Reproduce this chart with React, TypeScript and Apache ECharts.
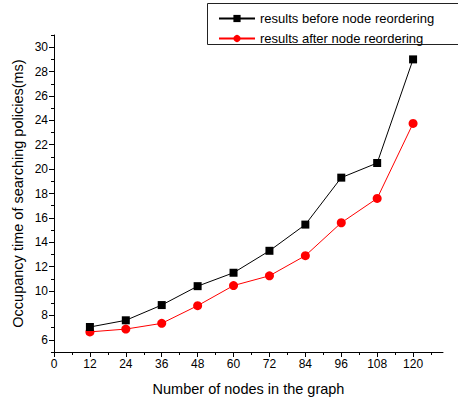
import React, { useEffect, useRef } from "react";
import * as echarts from "echarts";

const nodes = [12, 24, 36, 48, 60, 72, 84, 96, 108, 120];
const beforeReorder = [7.05, 7.6, 8.85, 10.4, 11.5, 13.3, 15.45, 19.3, 20.5, 29.0];
const afterReorder = [6.65, 6.88, 7.35, 8.8, 10.45, 11.25, 12.9, 15.6, 17.6, 23.75];
const xMajorTicks = [0, 12, 24, 36, 48, 60, 72, 84, 96, 108, 120];
const xMinorTicks = [6, 18, 30, 42, 54, 66, 78, 90, 102, 114, 126];
const yMajorTicks = [6, 8, 10, 12, 14, 16, 18, 20, 22, 24, 26, 28, 30];
const seriesNames = ["results before node reordering", "results after node reordering"];

const FONT = "Liberation Sans, Arial, sans-serif";

export default function App() {
  const ref = useRef<HTMLDivElement>(null);
  useEffect(() => {
    if (!ref.current) return;
    const chart = echarts.init(ref.current, null, { renderer: "svg" });
    const lbl = { color: "#000", fontSize: 12, fontFamily: FONT };
    chart.setOption({
      animation: false,
      textStyle: { fontFamily: FONT },
      grid: { left: 54, right: 15, top: 35, bottom: 48 },
      graphic: [
        {
          type: "rect",
          shape: { x: 207.5, y: 3.5, width: 260, height: 41 },
          style: { fill: "#fff", stroke: "#222", lineWidth: 1 },
          z: 0,
        },
      ],
      legend: {
        orient: "vertical",
        left: 213,
        top: 7,
        itemGap: 7,
        itemWidth: 36,
        itemHeight: 9,
        textStyle: { color: "#000", fontSize: 13, fontFamily: FONT },
        data: seriesNames,
        z: 10,
      },
      xAxis: [
        {
          type: "value",
          min: 0,
          max: 130,
          name: "Number of nodes in the graph",
          nameLocation: "middle",
          nameGap: 29,
          nameTextStyle: { color: "#000", fontSize: 14.5, fontFamily: FONT },
          axisLine: { lineStyle: { color: "#000", width: 1 } },
          axisTick: { customValues: xMajorTicks, length: 5, lineStyle: { color: "#000" } },
          axisLabel: { customValues: xMajorTicks, ...lbl, margin: 6 },
          splitLine: { show: false },
        },
        {
          type: "value",
          min: 0,
          max: 130,
          position: "bottom",
          axisLine: { show: false },
          axisTick: { customValues: xMinorTicks, length: 3, lineStyle: { color: "#000" } },
          axisLabel: { show: false },
          splitLine: { show: false },
        },
      ],
      yAxis: [
        {
          type: "value",
          min: 5,
          max: 31,
          interval: 1,
          name: "Occupancy time of searching policies(ms)",
          nameLocation: "middle",
          nameGap: 29,
          nameTextStyle: { color: "#000", fontSize: 14.5, fontFamily: FONT },
          axisLine: { show: true, lineStyle: { color: "#000", width: 1 } },
          axisTick: { show: true, length: 3, lineStyle: { color: "#000" } },
          axisLabel: { show: false },
          splitLine: { show: false },
        },
        {
          type: "value",
          min: 5,
          max: 31,
          position: "left",
          axisLine: { show: false },
          axisTick: { show: true, customValues: yMajorTicks, length: 5, lineStyle: { color: "#000" } },
          axisLabel: { customValues: yMajorTicks, ...lbl, margin: 6 },
          splitLine: { show: false },
        },
      ],
      series: [
        {
          name: seriesNames[0],
          type: "line",
          data: nodes.map((n, i) => [n, beforeReorder[i]]),
          symbol: "rect",
          symbolSize: 8,
          lineStyle: { color: "#000", width: 1 },
          itemStyle: { color: "#000" },
          z: 3,
        },
        {
          name: seriesNames[1],
          type: "line",
          data: nodes.map((n, i) => [n, afterReorder[i]]),
          symbol: "circle",
          symbolSize: 9,
          lineStyle: { color: "#ff0000", width: 1 },
          itemStyle: { color: "#ff0000" },
          z: 2,
        },
      ],
    });
    return () => chart.dispose();
  }, []);
  return (
    <div
      ref={ref}
      style={{ position: "absolute", left: 0, top: 0, width: 458, height: 401, background: "#fff" }}
    />
  );
}
